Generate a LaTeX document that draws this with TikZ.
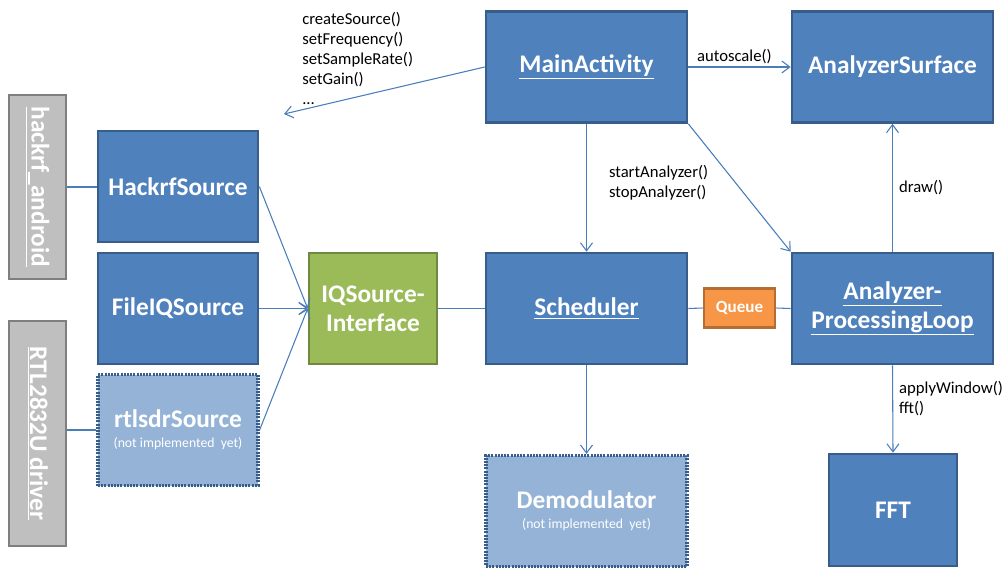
\documentclass[tikz,border=0pt]{standalone}
\usepackage{fontspec}
\setmainfont{Carlito}
\usetikzlibrary{arrows.meta}
\definecolor{bfill}{HTML}{4F81BD}
\definecolor{bdraw}{HTML}{385D8A}
\definecolor{lfill}{HTML}{95B3D7}
\definecolor{gfill}{HTML}{9BBB59}
\definecolor{gdraw}{HTML}{71893F}
\definecolor{ofill}{HTML}{F79646}
\definecolor{odraw}{HTML}{B66D31}
\definecolor{grfill}{HTML}{BFBFBF}
\definecolor{grdraw}{HTML}{7F7F7F}
\definecolor{conncol}{HTML}{4A7EBB}
\begin{document}
\begin{tikzpicture}[x=0.75pt,y=-0.75pt,
  sz/.style 2 args={minimum width=#1*0.75pt, minimum height=#2*0.75pt},
  bigfont/.style={font=\fontsize{19}{22}\selectfont\bfseries},
  box/.style={draw=bdraw, fill=bfill, line width=2pt, text=white, bigfont, align=center, inner sep=0pt},
  ghost/.style={box, fill=lfill, line width=2.4pt, dash pattern=on 1.5pt off 0.9pt},
  iface/.style={box, draw=gdraw, fill=gfill},
  queuebox/.style={draw=odraw, fill=ofill, line width=2pt, text=white, font=\fontsize{12.8}{15}\selectfont\bfseries, inner sep=0pt},
  graybox/.style={draw=grdraw, fill=grfill, line width=2pt, text=white, bigfont, inner sep=0pt, rotate=-90},
  conn/.style={draw=conncol, line width=0.8pt},
  arr/.style={conn, -{Straight Barb[length=6pt,width=9pt]}},
  lbl/.style={font=\fontsize{12.5}{15}\selectfont, text=black, inner sep=0pt, align=left},
  smalltxt/.style={font=\fontsize{10.3}{12}\selectfont\mdseries}
]
\useasboundingbox (0,0) rectangle (1005,582);

% gray driver boxes
\node[graybox, sz={184}{57}] (hackgray) at (37.5,187) {\underline{hackrf\_android}};
\node[graybox, sz={225}{57}] (rtlgray) at (37.5,433.5) {\underline{RTL2832U driver}};

% sources
\node[box, sz={160}{111}] (hackrf) at (178,186.5) {HackrfSource};
\node[box, sz={160}{111}] (fileiq) at (178,308.5) {FileIQSource};
\node[ghost, sz={160}{111}] (rtlsdr) at (178,430) {rtlsdrSource\\[-7pt]{\fontsize{10.3}{12}\selectfont\mdseries (not implemented~ yet)}};

\node[iface, sz={128}{111}] (iq) at (373,308.5) {IQSource-\\Interface};

\node[box, sz={201}{111}] (main) at (586.5,67) {\underline{MainActivity}};
\node[box, sz={201}{111}] (sched) at (586.5,308.5) {\underline{Scheduler}};
\node[ghost, sz={201}{111}] (demod) at (586.5,511) {Demodulator\\[-7pt]{\fontsize{10.3}{12}\selectfont\mdseries (not implemented~ yet)}};

\node[box, sz={201}{111}] (surface) at (892.5,67) {AnalyzerSurface};
\node[box, sz={201}{111}] (apl) at (892.5,308.5) {\underline{Analyzer-}\\\underline{ProcessingLoop}};
\node[box, sz={128}{112}] (fft) at (893,510) {FFT};

\node[queuebox, sz={71}{39}] (queue) at (739.5,308) {Queue};

% call labels
\node[lbl, anchor=west] (calls) at (302,58) {createSource()\\setFrequency()\\setSampleRate()\\setGain()\\...};
\coordinate (callend) at (284,114);

% connectors
\draw[conn] (hackgray.north) -- (hackgray.north -| hackrf.west);
\draw[conn] (rtlsdr.west -| rtlgray.north) -- (rtlsdr.west);
\draw[arr] (hackrf.east) -- (iq.west);
\draw[arr] (fileiq.east) -- (iq.west);
\draw[arr] (rtlsdr.east) -- (iq.west);
\draw[conn] (iq.east) -- (sched.west);
\draw[conn] (sched.east) -- (queue.west);
\draw[conn] (queue.east) -- (apl.west);
\draw[arr] (main.west) -- (callend);
\draw[arr] (main.east) -- node[lbl, above=2pt, pos=0.45] (lauto) {autoscale()} (surface.west);
\draw[arr] (main.south) -- node[lbl, anchor=west, xshift=16.5pt, pos=0.46] (lstart) {startAnalyzer()\\stopAnalyzer()} (sched.north);
\draw[arr] (main.south east) -- (apl.north west);
\draw[arr] (apl.north) -- node[lbl, anchor=west, xshift=4.5pt, pos=0.5] (ldraw) {draw()} (surface.south);
\draw[arr] (sched.south) -- (demod.north);
\draw[arr] (apl.south) -- node[lbl, anchor=west, xshift=4.5pt, pos=0.38] (lfft) {applyWindow()\\fft()} (fft.north);
\end{tikzpicture}
\end{document}
